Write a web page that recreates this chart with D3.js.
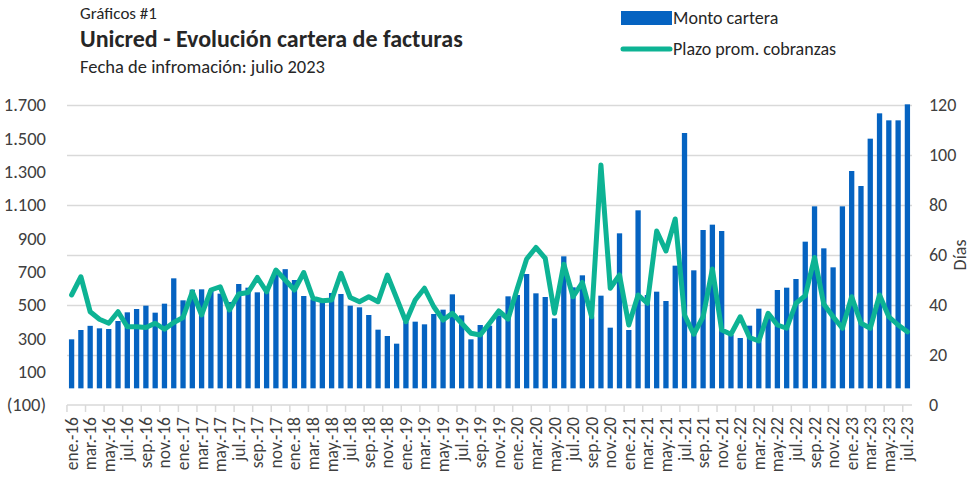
<!DOCTYPE html>
<html>
<head>
<meta charset="utf-8">
<script src="https://d3js.org/d3.v7.min.js"></script>
<style>
body { margin: 0; background: #fff; }
text { font-family: Carlito, Calibri, Lato, sans-serif; }
.grid line { stroke: #d9d9d9; stroke-width: 1.5; }
.grid path { stroke-width: 0; }
.axis path { stroke: none; }
.axis line { stroke: none; }
.axis text { fill: #404040; }
</style>
</head>
<body>
<svg width="967" height="481"></svg>
<script>

var monthAbbr = ["ene.", "feb.", "mar.", "abr.", "may.", "jun.", "jul.", "ago.", "sep.", "oct.", "nov.", "dic."];
var years = ["16", "17", "18", "19", "20", "21", "22", "23"];

// Monto cartera (left axis)
var monto = [
  294, 350, 375, 360, 356, 404, 456, 476, 496, 454, 508, 660,
  528, 592, 594, 590, 568, 518, 626, 604, 576, 585, 705, 715,
  650, 554, 534, 520, 572, 566, 496, 486, 440, 352, 314, 268,
  400, 400, 384, 446, 472, 564, 438, 294, 380, 376, 438, 552,
  560, 686, 570, 548, 420, 792, 606, 678, 430, 556, 364, 930,
  350, 1068, 560, 580, 524, 736, 1532, 708, 950, 982, 944, 320,
  302, 376, 478, 440, 590, 604, 656, 880, 1092, 840, 726, 1092,
  1304, 1214, 1498, 1650, 1608, 1608, 1704
];

// Plazo prom. cobranzas (right axis, días)
var plazo = [
  44, 51.3, 37.3, 34.3, 32.7, 37.3, 31.3, 31.3, 31, 32.7, 30.3, 33,
  35, 45.3, 36, 46, 47.3, 38, 44.4, 45, 51, 45.3, 54, 50,
  46, 53, 42.7, 41.7, 42, 52.7, 43, 41.3, 43.3, 41.3, 52, 42.7,
  33.3, 42, 46.7, 39.3, 34, 36.7, 32.7, 28.7, 28, 32.7, 37.6, 34.4,
  46.7, 58.4, 63, 58.7, 36.7, 56.3, 43.3, 49, 35.3, 96, 46.7, 52,
  32, 44, 40.7, 69.6, 61.6, 74.4, 36, 28.3, 35.3, 54.4, 30, 28.3,
  35.3, 27, 25.6, 36.7, 32, 30.7, 40.7, 43.7, 59, 40.3, 35.3, 30.7,
  43.3, 32.7, 30.7, 44, 35.3, 32, 29.3
];

var leftTicks = [-100, 100, 300, 500, 700, 900, 1100, 1300, 1500, 1700];
var rightTicks = [0, 20, 40, 60, 80, 100, 120];

var labels = [];
years.forEach(function(yy) {
  monthAbbr.forEach(function(m) { labels.push(m + "-" + yy); });
});
labels = labels.slice(0, monto.length);

var data = labels.map(function(l, i) { return { label: l, monto: monto[i], plazo: plazo[i] }; });

var svg = d3.select("svg"),
    margin = { top: 105, right: 55, bottom: 76, left: 67 },
    width = +svg.attr("width"),
    height = +svg.attr("height");

var x = d3.scaleBand()
    .domain(labels)
    .range([margin.left, width - margin.right])
    .paddingInner(0.43)
    .paddingOuter(0.21);

var yL = d3.scaleLinear()
    .domain([-100, 1700])
    .range([height - margin.bottom, margin.top]);

var yR = d3.scaleLinear()
    .domain([0, 120])
    .range([height - margin.bottom, margin.top]);

var fmt = function(d) {
  var s = d3.format(",")(Math.abs(d)).replace(/,/g, ".");
  return d < 0 ? "(" + s + ")" : s;
};

// gridlines follow the right axis
svg.append("g")
    .attr("class", "grid")
    .attr("transform", "translate(" + margin.left + ",0)")
    .call(d3.axisRight(yR)
      .tickValues(rightTicks.slice(1))
      .tickFormat("")
      .tickSize(width - margin.left - margin.right));

// x axis base line
svg.append("line")
    .attr("x1", margin.left).attr("x2", width - margin.right)
    .attr("y1", yR(0)).attr("y2", yR(0))
    .attr("stroke", "#d9d9d9").attr("stroke-width", 1.5);

// tick marks every two months
svg.append("g")
  .selectAll("line")
  .data(labels.filter(function(d, i) { return i % 2 === 0; }))
  .enter().append("line")
    .attr("x1", function(d) { return x(d) - x.step() * x.paddingInner() / 2; })
    .attr("x2", function(d) { return x(d) - x.step() * x.paddingInner() / 2; })
    .attr("y1", yR(0)).attr("y2", yR(0) + 7)
    .attr("stroke", "#d9d9d9").attr("stroke-width", 1.5);

svg.append("g")
  .selectAll("rect")
  .data(data)
  .enter().append("rect")
    .attr("x", function(d) { return x(d.label); })
    .attr("width", x.bandwidth())
    .attr("y", function(d) { return yL(Math.max(0, d.monto)); })
    .attr("height", function(d) { return Math.abs(yL(d.monto) - yL(0)); })
    .attr("fill", "#0563C1");

var line = d3.line()
    .x(function(d) { return x(d.label) + x.bandwidth() / 2; })
    .y(function(d) { return yR(d.plazo); });

svg.append("path")
    .datum(data)
    .attr("fill", "none")
    .attr("stroke", "#0DB394")
    .attr("stroke-width", 5)
    .attr("stroke-linejoin", "round")
    .attr("stroke-linecap", "round")
    .attr("d", line);

// left axis
svg.append("g")
    .attr("class", "axis")
    .style("font-size", "18.5px")
    .attr("transform", "translate(46,0)")
    .call(d3.axisLeft(yL).tickValues(leftTicks).tickFormat(fmt).tickSize(0).tickPadding(0));

// right axis
svg.append("g")
    .attr("class", "axis")
    .style("font-size", "18px")
    .attr("transform", "translate(929,0)")
    .call(d3.axisRight(yR).tickValues(rightTicks).tickSize(0).tickPadding(0));

svg.append("text")
    .attr("transform", "translate(966," + yR(60) + ") rotate(-90)")
    .attr("text-anchor", "middle")
    .style("font-size", "18px")
    .attr("fill", "#404040")
    .text("Días");

// x labels
svg.append("g")
  .selectAll("text")
  .data(labels.filter(function(d, i) { return i % 2 === 0; }))
  .enter().append("text")
    .attr("transform", function(d) { return "translate(" + (x(d) + x.bandwidth() / 2 + 6) + "," + (yR(0) + 12) + ") rotate(-90)"; })
    .attr("text-anchor", "end")
    .style("font-size", "17.5px")
    .attr("fill", "#404040")
    .text(function(d) { return d; });

// titles
svg.append("text").attr("x", 80).attr("y", 19).style("font-size", "17px").attr("fill", "#262626").text("Gráficos #1");
svg.append("text").attr("x", 80).attr("y", 47).style("font-size", "24px").style("font-weight", "bold").attr("fill", "#262626").text("Unicred - Evolución cartera de facturas");
svg.append("text").attr("x", 80).attr("y", 73).style("font-size", "18.5px").attr("fill", "#262626").text("Fecha de infromación: julio 2023");

// legend
var leg = svg.append("g");
leg.append("rect").attr("x", 621).attr("y", 11).attr("width", 51).attr("height", 14).attr("fill", "#0563C1");
leg.append("text").attr("x", 673).attr("y", 24).style("font-size", "18px").attr("fill", "#262626").text("Monto cartera");
leg.append("line").attr("x1", 623).attr("x2", 670).attr("y1", 49).attr("y2", 49)
    .attr("stroke", "#0DB394").attr("stroke-width", 5).attr("stroke-linecap", "round");
leg.append("text").attr("x", 673).attr("y", 55).style("font-size", "18px").attr("fill", "#262626").text("Plazo prom. cobranzas");

</script>
</body>
</html>
